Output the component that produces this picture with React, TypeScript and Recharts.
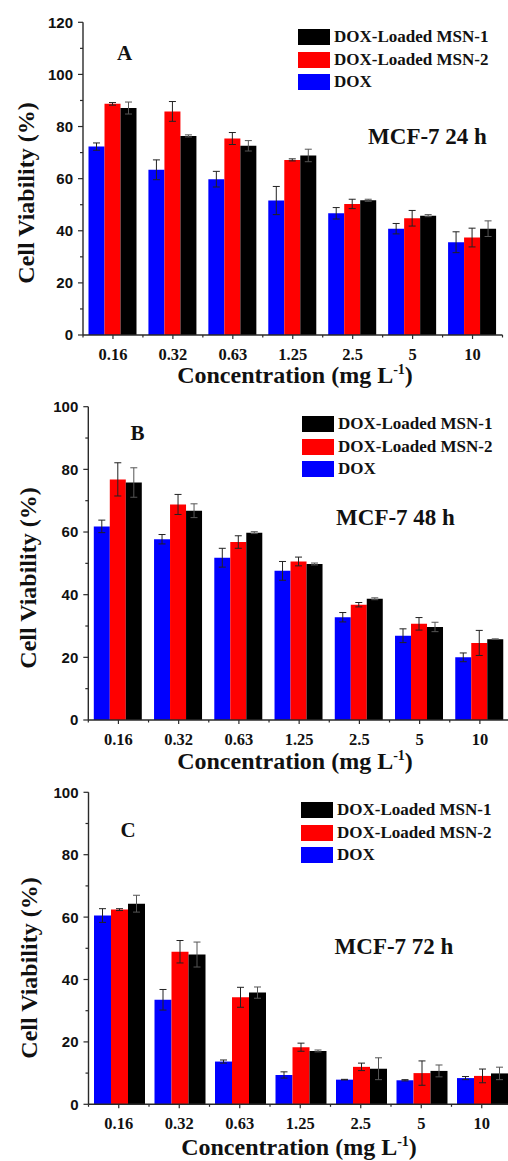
import { Bar, BarChart, ErrorBar, Legend, XAxis, YAxis } from 'recharts';

// concentrations (mg L-1)
const concentrations = ['0.16', '0.32', '0.63', '1.25', '2.5', '5', '10'];

// legend order, top to bottom
const legendOrder = ['DOX-Loaded MSN-1', 'DOX-Loaded MSN-2', 'DOX'];

// MCF-7 24 h
const dox24 = [72.3, 63.4, 59.8, 51.6, 46.7, 40.8, 35.6];
const dox24Err = [1.4, 3.8, 3.0, 5.4, 2.2, 2.0, 4.0];
const msn2_24 = [88.7, 85.8, 75.4, 67.2, 50.3, 44.8, 37.4];
const msn2_24Err = [0.5, 3.8, 2.3, 0.4, 1.8, 3.0, 3.6];
const msn1_24 = [87.1, 76.4, 72.6, 68.9, 51.7, 45.8, 40.8];
const msn1_24Err = [2.3, 0.4, 2.0, 2.4, 0.4, 0.4, 3.0];

// MCF-7 48 h
const dox48 = [61.8, 57.7, 51.8, 47.6, 32.8, 26.9, 20.0];
const dox48Err = [2.0, 1.5, 3.0, 3.0, 1.5, 2.2, 1.4];
const msn2_48 = [76.8, 68.8, 56.8, 50.6, 36.8, 30.7, 24.6];
const msn2_48Err = [5.3, 3.2, 2.0, 1.4, 0.7, 2.0, 4.0];
const msn1_48 = [75.8, 66.8, 59.8, 49.8, 38.7, 29.7, 25.8];
const msn1_48Err = [4.7, 2.2, 0.3, 0.3, 0.3, 1.5, 0.1];

// MCF-7 72 h
const dox72 = [60.5, 33.5, 13.7, 9.4, 7.9, 7.7, 8.4];
const dox72Err = [2.2, 3.3, 0.5, 1.0, 0.1, 0.2, 0.5];
const msn2_72 = [62.4, 48.9, 34.3, 18.3, 12.0, 10.0, 9.1];
const msn2_72Err = [0.3, 3.6, 3.2, 1.3, 1.2, 3.9, 2.2];
const msn1_72 = [64.3, 48.0, 35.8, 17.1, 11.4, 10.7, 9.9];
const msn1_72Err = [2.7, 4.0, 1.8, 0.3, 3.5, 1.9, 2.0];

const ticks120 = [0, 10, 20, 30, 40, 50, 60, 70, 80, 90, 100, 110, 120];
const ticks100 = [0, 10, 20, 30, 40, 50, 60, 70, 80, 90, 100];

const SERIF = '"Liberation Serif", "Times New Roman", serif';
const SANS = '"Liberation Sans", Arial, sans-serif';
const AXIS = '#2a2a2a';

function buildRows(dox: number[], doxErr: number[], msn2: number[], msn2Err: number[], msn1: number[], msn1Err: number[]) {
  return concentrations.map((conc, i) => ({
    conc,
    dox: dox[i],
    doxErr: doxErr[i],
    msn2: msn2[i],
    msn2Err: msn2Err[i],
    msn1: msn1[i],
    msn1Err: msn1Err[i],
  }));
}

const panels = [
  {
    key: 'A', top: 0, width: 508, height: 390,
    plotLeft: 83, plotRight: 502.5, plotTop: 22.3, plotBottom: 335,
    yMax: 120, ticks: ticks120, cond: 'MCF-7 24 h',
    letterX: 124.5, letterY: 60, condX: 427.5, condY: 144,
    yTitleX: 34, yTitleY: 193, xTitleX: 295, xTitleY: 383,
    legendX: 298, legendY: 29,
    data: buildRows(dox24, dox24Err, msn2_24, msn2_24Err, msn1_24, msn1_24Err),
  },
  {
    key: 'B', top: 385, width: 520, height: 390,
    plotLeft: 88.3, plotRight: 510, plotTop: 21.7, plotBottom: 335,
    yMax: 100, ticks: ticks100, cond: 'MCF-7 48 h',
    letterX: 137.5, letterY: 55, condX: 395.5, condY: 140,
    yTitleX: 36, yTitleY: 193, xTitleX: 295, xTitleY: 384,
    legendX: 302, legendY: 31,
    data: buildRows(dox48, dox48Err, msn2_48, msn2_48Err, msn1_48, msn1_48Err),
  },
  {
    key: 'C', top: 770, width: 520, height: 391,
    plotLeft: 88.5, plotRight: 512, plotTop: 22.3, plotBottom: 334.3,
    yMax: 100, ticks: ticks100, cond: 'MCF-7 72 h',
    letterX: 128, letterY: 67, condX: 394, condY: 184,
    yTitleX: 37, yTitleY: 198, xTitleX: 299, xTitleY: 385,
    legendX: 301, legendY: 32,
    data: buildRows(dox72, dox72Err, msn2_72, msn2_72Err, msn1_72, msn1_72Err),
  },
];

function YTick(props: any) {
  const { x, y, payload } = props;
  const v = payload.value;
  const major = v % 20 === 0;
  return (
    <g>
      <line x1={x - (major ? 5 : 3)} x2={x} y1={y} y2={y} stroke={AXIS} strokeWidth={1.2} />
      {major && (
        <text x={x - 10} y={y} dy="0.36em" textAnchor="end" fontFamily={SANS} fontWeight="bold" fontSize={15} fill="#111">
          {v}
        </text>
      )}
    </g>
  );
}

function XTick(props: any) {
  const { x, y, payload, index, step } = props;
  const half = step / 2;
  return (
    <g>
      <line x1={x} x2={x} y1={y} y2={y + 4} stroke={AXIS} strokeWidth={1.2} />
      <line x1={x - half} x2={x - half} y1={y} y2={y + 2.5} stroke={AXIS} strokeWidth={1.2} />
      {index === concentrations.length - 1 && (
        <line x1={x + half} x2={x + half} y1={y} y2={y + 2.5} stroke={AXIS} strokeWidth={1.2} />
      )}
      <text x={x} y={y + 25} textAnchor="middle" fontFamily={SERIF} fontWeight="bold" fontSize={16.5} fill="#111">
        {payload.value}
      </text>
    </g>
  );
}

function LegendBox(props: any) {
  const items = [...(props.payload ?? [])].sort(
    (a: any, b: any) => legendOrder.indexOf(a.value) - legendOrder.indexOf(b.value)
  );
  return (
    <div style={{ fontFamily: SERIF, fontWeight: 'bold', fontSize: 17, color: '#111' }}>
      {items.map((it: any) => (
        <div key={it.value} style={{ display: 'flex', alignItems: 'center', height: 22.5, whiteSpace: 'nowrap' }}>
          <span style={{ display: 'inline-block', width: 32, height: 16, background: it.color, marginRight: 4 }} />
          <span>{it.value}</span>
        </div>
      ))}
    </div>
  );
}

function Panel({ cfg }: { cfg: (typeof panels)[number] }) {
  const step = (cfg.plotRight - cfg.plotLeft) / concentrations.length;
  const axisLine = { stroke: AXIS, strokeWidth: 1.4 };
  return (
    <div style={{ position: 'absolute', left: 0, top: cfg.top, width: cfg.width, height: cfg.height }}>
      <BarChart
        width={cfg.width}
        height={cfg.height}
        data={cfg.data}
        margin={{ top: cfg.plotTop, right: cfg.width - cfg.plotRight, bottom: 0, left: 0 }}
        barCategoryGap={5.5}
        barGap={0}
      >
        <XAxis
          dataKey="conc"
          height={cfg.height - cfg.plotBottom}
          interval={0}
          tickSize={0}
          tickMargin={0}
          tickLine={false}
          axisLine={axisLine}
          tick={(p: any) => <XTick {...p} step={step} />}
        />
        <XAxis xAxisId="top" orientation="top" dataKey="conc" height={0} tick={false} tickLine={false} axisLine={axisLine} />
        <YAxis
          width={cfg.plotLeft}
          domain={[0, cfg.yMax]}
          ticks={cfg.ticks}
          interval={0}
          tickSize={0}
          tickMargin={0}
          tickLine={false}
          axisLine={axisLine}
          tick={(p: any) => <YTick {...p} />}
        />
        <YAxis yAxisId="right" orientation="right" width={0} domain={[0, cfg.yMax]} tick={false} tickLine={false} axisLine={axisLine} />
        <Legend
          layout="vertical"
          align="center"
          verticalAlign="middle"
          content={(p: any) => <LegendBox {...p} />}
          wrapperStyle={{ left: cfg.legendX, top: cfg.legendY - 3.25, width: 'auto', height: 'auto' }}
        />
        <Bar dataKey="dox" name="DOX" fill="#0000ff" isAnimationActive={false}>
          <ErrorBar dataKey="doxErr" width={3.5} strokeWidth={1} stroke="#222" isAnimationActive={false} />
        </Bar>
        <Bar dataKey="msn2" name="DOX-Loaded MSN-2" fill="#ff0000" isAnimationActive={false}>
          <ErrorBar dataKey="msn2Err" width={3.5} strokeWidth={1} stroke="#222" isAnimationActive={false} />
        </Bar>
        <Bar dataKey="msn1" name="DOX-Loaded MSN-1" fill="#000000" isAnimationActive={false}>
          <ErrorBar dataKey="msn1Err" width={3.5} strokeWidth={1} stroke="#555" isAnimationActive={false} />
        </Bar>
      </BarChart>
      <svg
        width={cfg.width}
        height={cfg.height}
        style={{ position: 'absolute', left: 0, top: 0, pointerEvents: 'none' }}
      >
        <text x={cfg.letterX} y={cfg.letterY} textAnchor="middle" fontFamily={SERIF} fontWeight="bold" fontSize={21} fill="#111">
          {cfg.key}
        </text>
        <text x={cfg.condX} y={cfg.condY} textAnchor="middle" fontFamily={SERIF} fontWeight="bold" fontSize={23} fill="#111">
          {cfg.cond}
        </text>
        <text
          x={cfg.yTitleX}
          y={cfg.yTitleY}
          transform={`rotate(-90 ${cfg.yTitleX} ${cfg.yTitleY})`}
          textAnchor="middle"
          fontFamily={SERIF}
          fontWeight="bold"
          fontSize={24}
          fill="#111"
        >
          Cell Viability (%)
        </text>
        <text x={cfg.xTitleX} y={cfg.xTitleY} textAnchor="middle" fontFamily={SERIF} fontWeight="bold" fontSize={24} fill="#111">
          Concentration (mg L
          <tspan fontSize={14} dy={-9}>-1</tspan>
          <tspan dy={9}>)</tspan>
        </text>
      </svg>
    </div>
  );
}

export default function App() {
  return (
    <div
      style={{ position: 'absolute', left: 0, top: 0, width: 508, height: 1161, overflow: 'hidden', background: '#fff' }}
    >
      {panels.map((cfg) => (
        <Panel key={cfg.key} cfg={cfg} />
      ))}
    </div>
  );
}
